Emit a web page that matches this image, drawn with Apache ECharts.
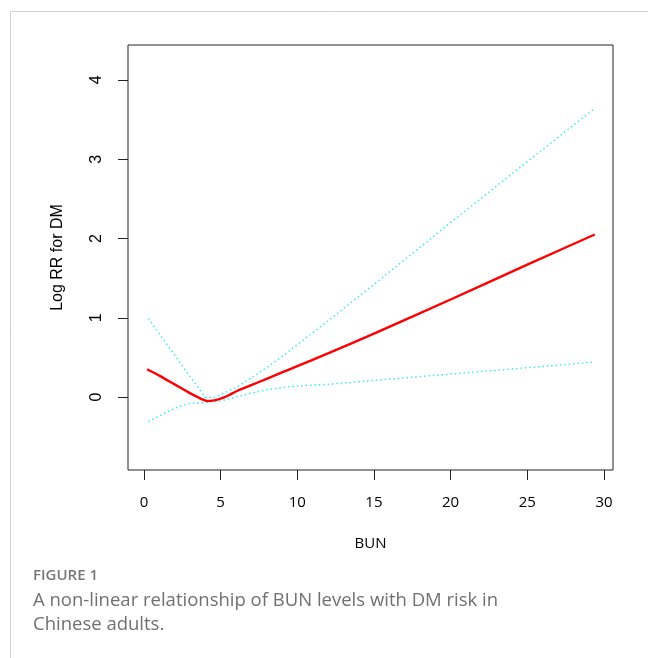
<!DOCTYPE html>
<html>
<head>
<meta charset="utf-8">
<title>BUN vs DM risk</title>
<script src="https://cdn.jsdelivr.net/npm/echarts@6/dist/echarts.min.js"></script>
<style>
  html, body { margin: 0; padding: 0; background: #fff; }
  #chart { width: 648px; height: 658px; }
</style>
</head>
<body>
<div id="chart"></div>
<script>
// spline fit of log RR against BUN
const fitBun = [0.2, 1, 2, 3, 3.5, 3.8, 4.1, 4.5, 5, 5.5, 6, 7, 8, 9, 10, 12, 15, 20, 25, 29.4];
const fitLogRR = [0.35, 0.27, 0.16, 0.05, 0.0, -0.03, -0.05, -0.045, -0.02, 0.02, 0.07, 0.15, 0.23, 0.31, 0.39, 0.55, 0.8, 1.23, 1.67, 2.05];

const upperBun = [0.3, 1, 2, 3, 3.5, 4, 4.5, 5, 6, 7, 8, 9, 10, 12, 15, 20, 25, 29.4];
const upperLogRR = [0.99, 0.8, 0.53, 0.26, 0.13, 0.0, -0.01, 0.03, 0.12, 0.24, 0.37, 0.51, 0.66, 0.96, 1.42, 2.2, 2.97, 3.64];

const lowerBun = [0.3, 1, 2, 3, 4, 5, 6, 7, 8, 9, 10, 12, 15, 20, 25, 29.3];
const lowerLogRR = [-0.31, -0.24, -0.14, -0.08, -0.07, -0.05, 0.0, 0.05, 0.09, 0.12, 0.14, 0.16, 0.21, 0.29, 0.37, 0.44];

const xTicks = [0, 5, 10, 15, 20, 25, 30];
const yTicks = [0, 1, 2, 3, 4];

const captionLabel = "FIGURE 1";
const captionLines = [
  "A non-linear relationship of BUN levels with DM risk in",
  "Chinese adults.",
];

const pairs = (xs, ys) => xs.map((x, i) => [x, ys[i]]);

const chart = echarts.init(document.getElementById("chart"), null, { renderer: "canvas" });

const axisFont = { fontFamily: "Liberation Sans", fontSize: 16, color: "#000" };
const ciLine = { color: "#22ecf0", width: 1.4, type: [1.4, 3] };

const option = {
  backgroundColor: "#fff",
  animation: false,
  grid: {
    left: 128,
    right: 35,
    top: 45,
    bottom: 188,
    show: true,
    borderColor: "#222",
    borderWidth: 1,
    backgroundColor: "transparent",
  },
  xAxis: {
    type: "value",
    min: -1.04,
    max: 30.59,
    name: "BUN",
    nameLocation: "middle",
    nameGap: 66,
    nameTextStyle: { fontFamily: "Open Sans", fontSize: 15, color: "#000", letterSpacing: -1 },
    axisLine: { show: false, onZero: false },
    axisTick: { show: true, length: 10, customValues: xTicks, lineStyle: { color: "#222" } },
    axisLabel: {
      customValues: xTicks,
      margin: 25,
      fontFamily: "Open Sans",
      fontSize: 15,
      color: "#000",
    },
    splitLine: { show: false },
  },
  yAxis: {
    type: "value",
    min: -0.92,
    max: 4.44,
    name: "Log RR for DM",
    nameLocation: "middle",
    nameRotate: 90,
    nameGap: 62,
    nameTextStyle: { ...axisFont, letterSpacing: 1 },
    axisLine: { show: false, onZero: false },
    axisTick: { show: true, length: 10, customValues: yTicks, lineStyle: { color: "#222" } },
    axisLabel: {
      customValues: yTicks,
      rotate: 90,
      margin: 23,
      ...axisFont,
    },
    splitLine: { show: false },
  },
  series: [
    {
      name: "upper",
      type: "line",
      data: pairs(upperBun, upperLogRR),
      showSymbol: false,
      lineStyle: ciLine,
      z: 2,
    },
    {
      name: "lower",
      type: "line",
      data: pairs(lowerBun, lowerLogRR),
      showSymbol: false,
      lineStyle: ciLine,
      z: 2,
    },
    {
      name: "fit",
      type: "line",
      data: pairs(fitBun, fitLogRR),
      showSymbol: false,
      smooth: 0.2,
      lineStyle: { color: "#ff0000", width: 2.4 },
      z: 3,
    },
  ],
  graphic: [
    {
      type: "polyline",
      shape: { points: [[10.5, 700], [10.5, 11.5], [660, 11.5]] },
      style: { stroke: "#cfcfcf", lineWidth: 1, fill: null },
      silent: true,
    },
    {
      type: "text",
      left: 33,
      top: 568,
      style: { text: captionLabel, fontFamily: "Open Sans", fontSize: 15, fontWeight: 600, fill: "#777", letterSpacing: 0.6 },
    },
    {
      type: "text",
      left: 33,
      top: 589,
      style: {
        text: captionLines.join("\n"),
        fontFamily: "Open Sans",
        fontSize: 18.5,
        lineHeight: 24,
        fill: "#707070",
      },
    },
  ],
};

chart.setOption(option);
</script>
</body>
</html>
